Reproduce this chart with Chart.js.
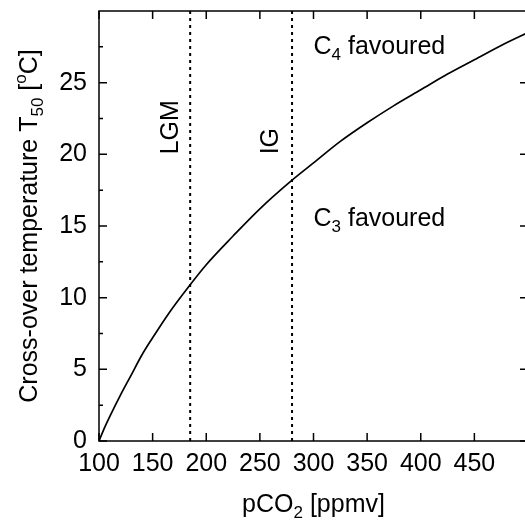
<!DOCTYPE html>
<html>
<head>
<meta charset="utf-8">
<script src="https://cdn.jsdelivr.net/npm/chart.js@4"></script>
<style>
  html, body { margin: 0; padding: 0; background: #fff; overflow: hidden; }
  canvas { display: block; }
</style>
</head>
<body>
<canvas id="myChart" width="530" height="524"></canvas>
<script>
const FONT = '"Liberation Sans", Arial, Helvetica, sans-serif';

// pCO2 (ppmv) and cross-over temperature T50 (degC)
const pco2 = [100, 105, 110, 120, 130, 140, 150, 165, 185, 200, 225, 250, 280, 300, 325, 350, 375, 400, 425, 450, 475, 500];
const t50 = [0, 0.9, 1.7, 3.2, 4.6, 6.0, 7.2, 8.9, 10.9, 12.3, 14.3, 16.2, 18.2, 19.4, 20.9, 22.2, 23.4, 24.5, 25.6, 26.6, 27.6, 28.5];

// reference levels
const lgmCO2 = 185;
const igCO2 = 280;

// axes
const xRange = [100, 500];
const yRange = [0, 30];
const xTicks = [100, 150, 200, 250, 300, 350, 400, 450];
const yTicks = [0, 5, 10, 15, 20, 25];
const yMinor = [2.5, 7.5, 12.5, 17.5, 22.5, 27.5];

// text labels placed in data coordinates
const notes = [
  { parts: [{ t: "LGM" }], x: 174, y: 20, vertical: true },
  { parts: [{ t: "IG" }], x: 267, y: 20, vertical: true },
  { parts: [{ t: "C" }, { t: "4", sub: true }, { t: " favoured" }], x: 300, y: 27 },
  { parts: [{ t: "C" }, { t: "3", sub: true }, { t: " favoured" }], x: 300, y: 15 },
];

function drawParts(ctx, parts, x, y, align) {
  const size = 25;
  const fontFor = (p) => (p.sub || p.sup ? 17 : size) + "px " + FONT;
  let total = 0;
  parts.forEach((p) => { ctx.font = fontFor(p); total += ctx.measureText(p.t).width; });
  let cx = align === "center" ? x - total / 2 : x;
  ctx.textAlign = "left";
  ctx.textBaseline = "alphabetic";
  parts.forEach((p) => {
    ctx.font = fontFor(p);
    const dy = p.sub ? 6 : p.sup ? -11 : 0;
    ctx.fillText(p.t, cx, y + dy);
    cx += ctx.measureText(p.t).width;
  });
}

const frameAndText = {
  id: "frameAndText",
  afterDraw(chart) {
    const { ctx, chartArea: a, scales: { x, y } } = chart;
    ctx.save();
    ctx.strokeStyle = "#000";
    ctx.fillStyle = "#000";
    ctx.lineWidth = 1.5;
    ctx.strokeRect(a.left, a.top, a.right - a.left, a.bottom - a.top);

    ctx.beginPath();
    xTicks.forEach((v) => {
      const px = x.getPixelForValue(v);
      ctx.moveTo(px, a.bottom); ctx.lineTo(px, a.bottom - 8);
      ctx.moveTo(px, a.top); ctx.lineTo(px, a.top + 8);
    });
    yTicks.forEach((v) => {
      const py = y.getPixelForValue(v);
      ctx.moveTo(a.left, py); ctx.lineTo(a.left + 8, py);
      ctx.moveTo(a.right, py); ctx.lineTo(a.right - 8, py);
    });
    yMinor.forEach((v) => {
      const py = y.getPixelForValue(v);
      ctx.moveTo(a.left, py); ctx.lineTo(a.left + 4, py);
    });
    ctx.stroke();

    // axis titles
    drawParts(ctx, [{ t: "pCO" }, { t: "2", sub: true }, { t: " [ppmv]" }], (a.left + a.right) / 2, 512, "center");
    ctx.save();
    ctx.translate(37, (a.top + a.bottom) / 2);
    ctx.rotate(-Math.PI / 2);
    drawParts(ctx, [{ t: "Cross-over temperature T" }, { t: "50", sub: true }, { t: " [" }, { t: "o", sup: true }, { t: "C]" }], 0, 0, "center");
    ctx.restore();

    notes.forEach((n) => {
      const px = x.getPixelForValue(n.x);
      const py = y.getPixelForValue(n.y);
      if (n.vertical) {
        ctx.save();
        ctx.translate(px, py);
        ctx.rotate(-Math.PI / 2);
        drawParts(ctx, n.parts, 0, 0, "left");
        ctx.restore();
      } else {
        drawParts(ctx, n.parts, px, py, "left");
      }
    });
    ctx.restore();
  },
};

const ctx = document.getElementById("myChart").getContext("2d");

const data = {
  labels: pco2,
  datasets: [
    {
      label: "T50",
      data: pco2.map((v, i) => ({ x: v, y: t50[i] })),
      borderColor: "#000",
      borderWidth: 1.7,
      pointRadius: 0,
      cubicInterpolationMode: "monotone",
    },
    {
      label: "LGM",
      data: [{ x: lgmCO2, y: yRange[0] }, { x: lgmCO2, y: yRange[1] }],
      borderColor: "#000",
      borderWidth: 2,
      borderDash: [3, 4],
      pointRadius: 0,
    },
    {
      label: "IG",
      data: [{ x: igCO2, y: yRange[0] }, { x: igCO2, y: yRange[1] }],
      borderColor: "#000",
      borderWidth: 2,
      borderDash: [3, 4],
      pointRadius: 0,
    },
  ],
};

const config = {
  type: "line",
  data: data,
  options: {
    responsive: false,
    animation: false,
    devicePixelRatio: 1,
    layout: { padding: { top: 11, right: 2, left: 0, bottom: 0 } },
    plugins: { legend: { display: false }, tooltip: { enabled: false } },
    scales: {
      x: {
        type: "linear",
        min: xRange[0],
        max: xRange[1],
        afterBuildTicks: (scale) => { scale.ticks = xTicks.map((v) => ({ value: v })); },
        afterFit: (scale) => { scale.height = 83; scale.paddingLeft = 0; scale.paddingRight = 0; },
        grid: { display: false, drawTicks: false },
        border: { display: false },
        ticks: { color: "#000", padding: 8, maxRotation: 0, font: { family: FONT, size: 25 } },
      },
      y: {
        type: "linear",
        min: yRange[0],
        max: yRange[1],
        afterBuildTicks: (scale) => { scale.ticks = yTicks.map((v) => ({ value: v })); },
        afterFit: (scale) => { scale.width = 99; scale.paddingTop = 0; scale.paddingBottom = 0; },
        grid: { display: false, drawTicks: false },
        border: { display: false },
        ticks: { color: "#000", padding: 12, font: { family: FONT, size: 25 } },
      },
    },
  },
  plugins: [frameAndText],
};

const myChart = new Chart(ctx, config);
</script>
</body>
</html>
